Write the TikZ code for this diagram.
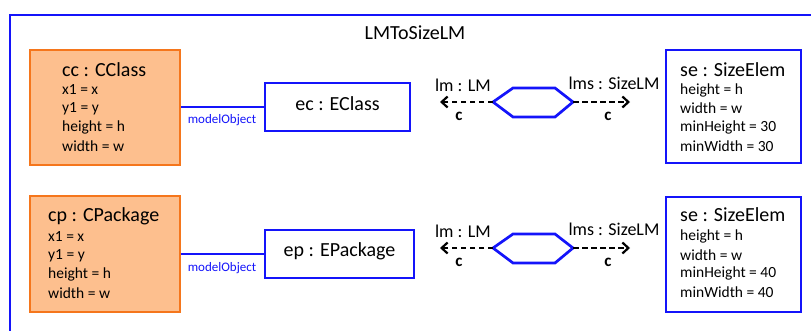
\documentclass[tikz,border=0pt]{standalone}
\usepackage{fontspec}
\setmainfont{Carlito}
\usetikzlibrary{arrows.meta}

\definecolor{linkblue}{RGB}{20,20,250}
\definecolor{srcfill}{RGB}{253,191,142}
\definecolor{srcdraw}{RGB}{245,118,28}

\tikzset{
  frame/.style={draw=linkblue, line width=2pt},
  srcbox/.style={draw=srcdraw, fill=srcfill, line width=2.4pt, inner sep=0pt},
  tgtbox/.style={draw=linkblue, fill=white, line width=2.5pt, inner sep=0pt},
  objtitle/.style={font=\fontsize{20}{22}\selectfont, inner sep=0pt},
  attr/.style={font=\fontsize{15.5}{17}\selectfont, anchor=west, inner sep=0pt},
  reflabel/.style={font=\fontsize{13}{15}\selectfont, text=linkblue, inner sep=0pt},
  reflink/.style={draw=linkblue, line width=2pt},
  rolelabel/.style={font=\fontsize{18}{20}\selectfont, inner sep=0pt},
  clabel/.style={font=\bfseries\fontsize{17}{19}\selectfont, inner sep=0pt},
  hexa/.style={draw=linkblue, line width=2.7pt, line join=miter},
  rolearrow/.style={draw=black, line width=2.2pt, dash pattern=on 5.5pt off 3.5pt,
    -{Straight Barb[length=6pt, width=11pt, line width=2.2pt]}}
}

\begin{document}
\begin{tikzpicture}[x=1pt, y=-1pt]
  \useasboundingbox (0,0) rectangle (811,331);

  % outer rule frame
  \draw[frame] (10,331) -- (10,15) -- (811,15);
  \node[font=\fontsize{20}{22}\selectfont, inner sep=0pt] (rule) at (415,33) {LMToSizeLM};

  % ---------- class mapping ----------
  \node[srcbox, minimum width=150pt, minimum height=115pt] (cc) at (105,107.5) {};
  \node[objtitle, anchor=west] (cct) at (62,70) {cc : CClass};
  \node[attr] (cc1) at (62,90) {x1 = x};
  \node[attr] (cc2) at (62,108.5) {y1 = y};
  \node[attr] (cc3) at (62,127) {height = h};
  \node[attr] (cc4) at (62,146) {width = w};

  \node[tgtbox, minimum width=145pt, minimum height=48pt] (ec) at (337.5,107) {};
  \node[objtitle] (ect) at (337.5,104) {ec : EClass};
  \draw[reflink] (cc.east |- 0,107) -- (ec.west |- 0,107);
  \node[reflabel] (mo1) at (222,120) {modelObject};

  \coordinate (h1l) at (493,102);
  \coordinate (h1r) at (573,102);
  \draw[hexa] (h1l) -- (513,88) -- (555,88) -- (h1r) -- (555,117) -- (513,117) -- cycle;
  \coordinate (a1l) at (440,102);
  \coordinate (a1r) at (630,102);
  \draw[rolearrow] (h1l) -- (a1l);
  \draw[rolearrow] (h1r) -- (a1r);
  \node[rolelabel] (lm1) at (463,85) {lm : LM};
  \node[rolelabel] (lms1) at (614,83) {lms : SizeLM};
  \node[clabel] (c1l) at (459,116) {c};
  \node[clabel] (c1r) at (608,116) {c};

  \node[tgtbox, minimum width=135pt, minimum height=113pt] (se1) at (733.5,106.5) {};
  \node[objtitle, anchor=west] (se1t) at (680,70) {se : SizeElem};
  \node[attr] (se11) at (680,90) {height = h};
  \node[attr] (se12) at (680,108.5) {width = w};
  \node[attr] (se13) at (680,127) {minHeight = 30};
  \node[attr] (se14) at (680,146) {minWidth = 30};

  % ---------- package mapping ----------
  \node[srcbox, minimum width=150pt, minimum height=116pt] (cp) at (105,254) {};
  \node[objtitle, anchor=west] (cpt) at (48,216) {cp : CPackage};
  \node[attr] (cp1) at (48,237) {x1 = x};
  \node[attr] (cp2) at (48,256) {y1 = y};
  \node[attr] (cp3) at (48,274) {height = h};
  \node[attr] (cp4) at (48,293) {width = w};

  \node[tgtbox, minimum width=149pt, minimum height=48pt] (ep) at (339.5,254) {};
  \node[objtitle] (ept) at (339.5,251) {ep : EPackage};
  \draw[reflink] (cp.east |- 0,254) -- (ep.west |- 0,254);
  \node[reflabel] (mo2) at (222,268) {modelObject};

  \coordinate (h2l) at (493,248);
  \coordinate (h2r) at (573,248);
  \draw[hexa] (h2l) -- (513,234) -- (555,234) -- (h2r) -- (555,263) -- (513,263) -- cycle;
  \coordinate (a2l) at (440,248);
  \coordinate (a2r) at (630,248);
  \draw[rolearrow] (h2l) -- (a2l);
  \draw[rolearrow] (h2r) -- (a2r);
  \node[rolelabel] (lm2) at (463,231) {lm : LM};
  \node[rolelabel] (lms2) at (614,229) {lms : SizeLM};
  \node[clabel] (c2l) at (459,262) {c};
  \node[clabel] (c2r) at (608,262) {c};

  \node[tgtbox, minimum width=135pt, minimum height=115pt] (se2) at (733.5,254.5) {};
  \node[objtitle, anchor=west] (se2t) at (680,215) {se : SizeElem};
  \node[attr] (se21) at (680,236) {height = h};
  \node[attr] (se22) at (680,255) {width = w};
  \node[attr] (se23) at (680,273) {minHeight = 40};
  \node[attr] (se24) at (680,292) {minWidth = 40};
\end{tikzpicture}
\end{document}
